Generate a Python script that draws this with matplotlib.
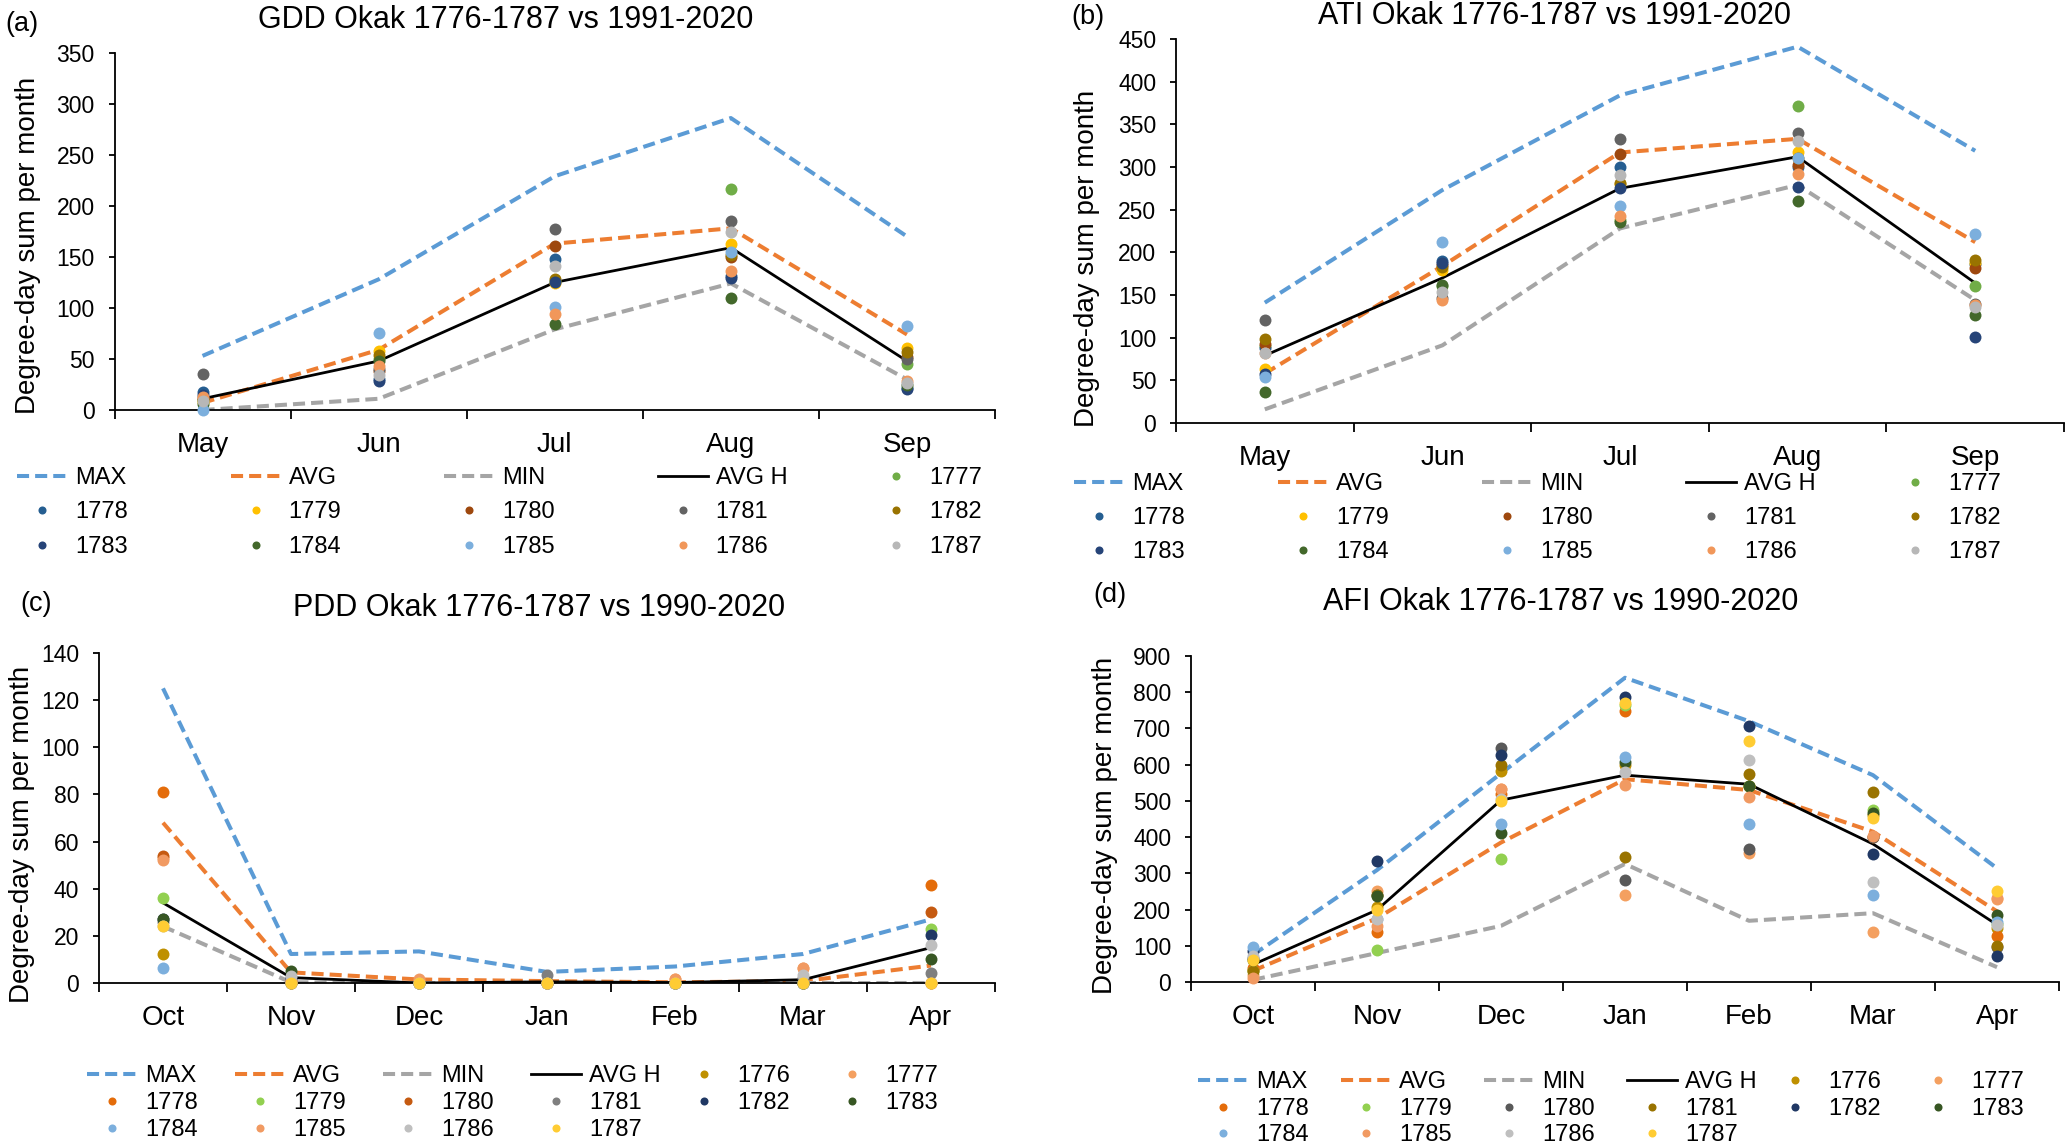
import matplotlib
matplotlib.use("Agg")
import matplotlib.pyplot as plt
from matplotlib.lines import Line2D

plt.rcParams['font.family'] = ['Liberation Sans', 'DejaVu Sans']

W, H = 2067, 1147

# ---------------- data ----------------
summer_months = ["May", "Jun", "Jul", "Aug", "Sep"]
winter_months = ["Oct", "Nov", "Dec", "Jan", "Feb", "Mar", "Apr"]

years_ab = ["1777", "1778", "1779", "1780", "1781", "1782", "1783", "1784", "1785", "1786", "1787"]
years_cd = ["1776", "1777", "1778", "1779", "1780", "1781", "1782", "1783", "1784", "1785", "1786", "1787"]

# (a) GDD
gdd_max = [53, 128, 229, 286, 170]
gdd_avg = [7, 59, 163, 178, 74]
gdd_min = [0, 11, 79, 124, 30]
gdd_avgh = [11, 48, 125, 159, 48]
gdd_years = {
    "1777": [10, 50, 126, 216, 45],
    "1778": [18, 30, 148, 131, 22],
    "1779": [8, 58, 124, 163, 61],
    "1780": [12, 38, 161, 150, 52],
    "1781": [35, 40, 177, 185, 50],
    "1782": [10, 54, 128, 152, 57],
    "1783": [15, 28, 125, 129, 21],
    "1784": [6, 48, 84, 110, 24],
    "1785": [0, 75, 101, 155, 82],
    "1786": [13, 43, 94, 136, 28],
    "1787": [9, 34, 141, 174, 26],
}

# (b) ATI
ati_max = [141, 273, 384, 441, 319]
ati_avg = [58, 184, 317, 333, 212]
ati_min = [16, 91, 228, 279, 144]
ati_avgh = [79, 170, 275, 312, 164]
ati_years = {
    "1777": [90, 160, 238, 371, 160],
    "1778": [88, 190, 300, 300, 186],
    "1779": [63, 179, 280, 317, 188],
    "1780": [93, 185, 315, 302, 182],
    "1781": [121, 147, 333, 340, 140],
    "1782": [98, 183, 281, 310, 191],
    "1783": [57, 188, 275, 277, 101],
    "1784": [36, 162, 235, 260, 126],
    "1785": [54, 212, 254, 311, 222],
    "1786": [82, 144, 242, 292, 138],
    "1787": [82, 154, 291, 330, 136],
}

# (c) PDD
pdd_max = [125, 12.3, 13.4, 4.7, 7, 12.3, 27]
pdd_avg = [68, 4.5, 1.5, 0.8, 0.3, 0.8, 7.4]
pdd_min = [24, 0.3, 0, 0, 0, 0, 0]
pdd_avgh = [34, 2.3, 0, 0.5, 0.2, 1.4, 15]
pdd_years = {
    "1776": [12.5, 0, 0, 0, 0, 0, 0],
    "1777": [53, 1, 1, 0, 1.7, 6.4, 0],
    "1778": [81, 0, 0, 0, 0, 0, 41.4],
    "1779": [36, 0, 0, 0, 0, 0, 23],
    "1780": [54, 0, 0, 0, 0, 0, 30],
    "1781": [26, 1, 0, 3.5, 0, 2, 4.2],
    "1782": [27, 2, 0, 0, 0, 0, 20.2],
    "1783": [27, 5, 0, 0, 0, 0, 10],
    "1784": [6.4, 0, 0, 0, 0, 0, 0],
    "1785": [52, 1, 1.7, 0, 1.7, 6.4, 0],
    "1786": [24, 3, 0, 0, 0, 3.5, 16],
    "1787": [24, 0, 0, 0, 0, 0, 0],
}

# (d) AFI
afi_max = [75, 309, 576, 840, 720, 571, 314]
afi_avg = [31, 176, 385, 560, 530, 415, 195]
afi_min = [6, 80, 155, 326, 169, 190, 41]
afi_avgh = [48, 199, 502, 571, 546, 381, 158]
afi_years = {
    "1776": [34, 208, 582, 600, 540, 460, 150],
    "1777": [20, 250, 533, 241, 357, 137, 230],
    "1778": [40, 138, 520, 747, 540, 400, 126],
    "1779": [30, 89, 340, 764, 540, 475, 160],
    "1780": [65, 240, 646, 282, 366, 400, 98],
    "1781": [30, 240, 600, 346, 574, 525, 100],
    "1782": [85, 334, 626, 787, 707, 353, 71],
    "1783": [60, 238, 412, 608, 541, 467, 185],
    "1784": [98, 174, 435, 622, 437, 241, 167],
    "1785": [11, 155, 533, 545, 510, 403, 231],
    "1786": [71, 174, 505, 580, 614, 275, 156],
    "1787": [60, 200, 500, 769, 665, 452, 250],
}

# ---------------- styles ----------------
C_MAX, C_AVG, C_MIN = "#5B9BD5", "#ED7D31", "#A5A5A5"
colors_ab = {
    "1777": "#70AD47", "1778": "#255E91", "1779": "#FFC000", "1780": "#9E480E",
    "1781": "#636363", "1782": "#997300", "1783": "#264478", "1784": "#43682B",
    "1785": "#7CAFDD", "1786": "#F1975A", "1787": "#B7B7B7",
}
colors_c = {
    "1776": "#BF9000", "1777": "#F4A060", "1778": "#E46C0A", "1779": "#92D050",
    "1780": "#C55A11", "1781": "#7F7F7F", "1782": "#203864", "1783": "#375623",
    "1784": "#7CAFDD", "1785": "#F19A62", "1786": "#BFBFBF", "1787": "#FFCC33",
}
colors_d = dict(colors_c)
colors_d["1780"] = "#595959"
colors_d["1781"] = "#997300"

LW_D = 2.9
DASH = (3, 1.5)
MS = 8.6
TICK_FS = 16.5
MONTH_FS = 20
LEG_FS = 17


def fx(x):
    return x / W


def fy(y):
    return 1 - y / H


def make_axes(L, R, T, B):
    return fig.add_axes([fx(L), fy(B), (R - L) / W, (B - T) / H])


def draw_panel(ax, months, vmax, vavg, vmin, vavgh, years, ydict, cdict, ylim, ystep):
    x = list(range(len(months)))
    ax.plot(x, vmax, color=C_MAX, lw=LW_D, dashes=DASH, dash_capstyle='butt', zorder=2)
    ax.plot(x, vavg, color=C_AVG, lw=LW_D, dashes=DASH, dash_capstyle='butt', zorder=2)
    ax.plot(x, vmin, color=C_MIN, lw=LW_D, dashes=DASH, dash_capstyle='butt', zorder=2)
    ax.plot(x, vavgh, color="black", lw=2.0, zorder=2)
    for yr in years:
        ax.plot(x, ydict[yr], ls='none', marker='o', ms=MS, mew=0,
                color=cdict[yr], zorder=3, clip_on=False)
    ax.set_xlim(-0.5, len(months) - 0.5)
    ax.set_ylim(*ylim)
    ax.set_yticks(list(range(ylim[0], ylim[1] + 1, ystep)))
    ax.set_xticks(x)
    ax.set_xticklabels(months, fontsize=MONTH_FS)
    ax.set_xticks([i - 0.5 for i in range(len(months) + 1)], minor=True)
    ax.tick_params(axis='x', which='major', length=0, pad=16)
    ax.tick_params(axis='x', which='minor', length=6.5, width=1.3, direction='out')
    ax.tick_params(axis='y', which='major', length=4.3, width=1.3, direction='out',
                   pad=10, labelsize=TICK_FS)
    for s in ['top', 'right']:
        ax.spines[s].set_visible(False)
    for s in ['left', 'bottom']:
        ax.spines[s].set_linewidth(1.3)
        ax.spines[s].set_color('black')
    ax.patch.set_alpha(0)


def draw_legend(entries, x0, pitch, y0, rowpitch, ncol):
    # entries: list of (handle, label) in row-major order
    for k, (h, lab) in enumerate(entries):
        r, c = divmod(k, ncol)
        fig.legend(handles=[h], labels=[lab], loc='center left',
                   bbox_to_anchor=(fx(x0 + c * pitch), fy(y0 + r * rowpitch)),
                   frameon=False, borderpad=0, borderaxespad=0,
                   handlelength=2.12, handletextpad=0.34, fontsize=LEG_FS)


def legend_entries(years, cdict):
    ents = [
        (Line2D([], [], color=C_MAX, lw=LW_D, dashes=DASH, dash_capstyle='butt'), "MAX"),
        (Line2D([], [], color=C_AVG, lw=LW_D, dashes=DASH, dash_capstyle='butt'), "AVG"),
        (Line2D([], [], color=C_MIN, lw=LW_D, dashes=DASH, dash_capstyle='butt'), "MIN"),
        (Line2D([], [], color="black", lw=2.0), "AVG H"),
    ]
    for yr in years:
        ents.append((Line2D([], [], ls='none', marker='o', ms=5.8, mew=0, color=cdict[yr]), yr))
    return ents


fig = plt.figure(figsize=(W / 100, H / 100), dpi=100)

# (a)
axa = make_axes(114.5, 995, 52.7, 410)
draw_panel(axa, summer_months, gdd_max, gdd_avg, gdd_min, gdd_avgh,
           years_ab, gdd_years, colors_ab, (0, 350), 50)
fig.text(fx(506), fy(27.5), "GDD Okak 1776-1787 vs 1991-2020", ha='center', va='baseline', fontsize=22)
fig.text(fx(5), fy(24), "(a)", ha='left', va='center', fontsize=19.5)
fig.text(fx(28), fy(245), "Degree-day sum per month", rotation=90, ha='center', va='center', fontsize=20)
draw_legend(legend_entries(years_ab, colors_ab), 17, 213.5, 478, 34.5, 5)

# (b)
axb = make_axes(1176, 2064, 39, 423)
draw_panel(axb, summer_months, ati_max, ati_avg, ati_min, ati_avgh,
           years_ab, ati_years, colors_ab, (0, 450), 50)
fig.text(fx(1555), fy(24), "ATI Okak 1776-1787 vs 1991-2020", ha='center', va='baseline', fontsize=22)
fig.text(fx(1071), fy(17), "(b)", ha='left', va='center', fontsize=19.5)
fig.text(fx(1087), fy(258), "Degree-day sum per month", rotation=90, ha='center', va='center', fontsize=20)
draw_legend(legend_entries(years_ab, colors_ab), 1074, 204, 484, 34.2, 5)

# (c)
axc = make_axes(99, 995, 653, 983)
draw_panel(axc, winter_months, pdd_max, pdd_avg, pdd_min, pdd_avgh,
           years_cd, pdd_years, colors_c, (0, 140), 20)
fig.text(fx(539), fy(616), "PDD Okak 1776-1787 vs 1990-2020", ha='center', va='baseline', fontsize=22)
fig.text(fx(20), fy(604), "(c)", ha='left', va='center', fontsize=19.5)
fig.text(fx(22), fy(834), "Degree-day sum per month", rotation=90, ha='center', va='center', fontsize=20)
draw_legend(legend_entries(years_cd, colors_c), 87, 148, 1076, 27, 6)

# (d)
axd = make_axes(1191, 2059, 656, 982)
draw_panel(axd, winter_months, afi_max, afi_avg, afi_min, afi_avgh,
           years_cd, afi_years, colors_d, (0, 900), 100)
fig.text(fx(1561), fy(609.5), "AFI Okak 1776-1787 vs 1990-2020", ha='center', va='baseline', fontsize=22)
fig.text(fx(1093), fy(595), "(d)", ha='left', va='center', fontsize=19.5)
fig.text(fx(1105), fy(825), "Degree-day sum per month", rotation=90, ha='center', va='center', fontsize=20)
draw_legend(legend_entries(years_cd, colors_d), 1198, 143, 1082.5, 26.3, 6)

fig.savefig("out.png", dpi=100)
